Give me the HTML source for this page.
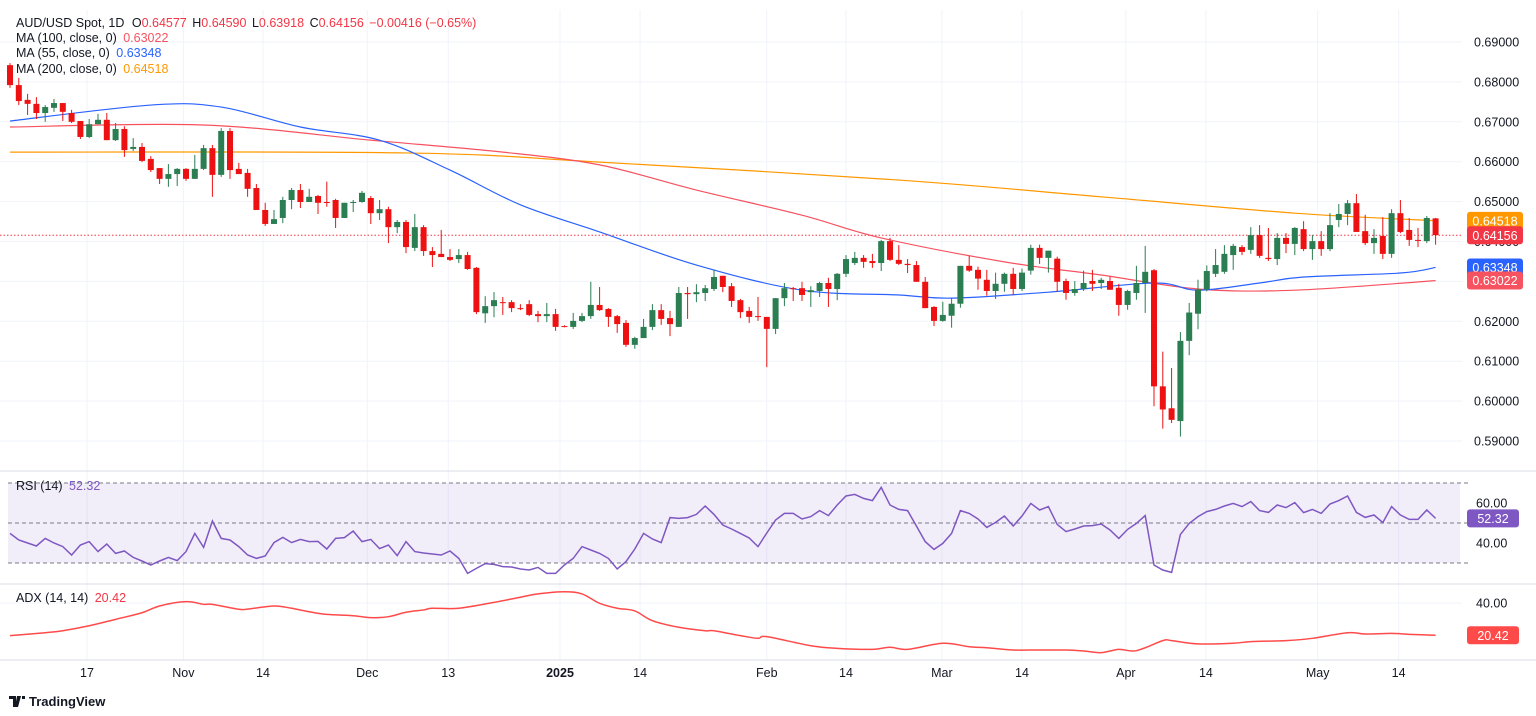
<!DOCTYPE html>
<html><head><meta charset="utf-8"><style>
html,body{margin:0;padding:0;background:#fff;}
svg{display:block;font-family:"Liberation Sans",sans-serif;}
</style></head><body>
<svg id="chart" width="1536" height="716" viewBox="0 0 1536 716" xmlns="http://www.w3.org/2000/svg">
<rect width="1536" height="716" fill="#fff"/>
<g id="grid"></g>
<g id="rsiPane"></g>
<g id="adxPane"></g>
<g id="mas"></g>
<g id="candles"></g>
<g id="axes"></g>
<g font-size="12.5" fill="#131722">
<text x="16" y="27">AUD/USD Spot, 1D  <tspan dx="4">O</tspan><tspan fill="#f23645">0.64577</tspan> <tspan dx="2">H</tspan><tspan fill="#f23645">0.64590</tspan> <tspan dx="2">L</tspan><tspan fill="#f23645">0.63918</tspan> <tspan dx="2">C</tspan><tspan fill="#f23645">0.64156</tspan> <tspan dx="2" fill="#f23645">−0.00416 (−0.65%)</tspan></text>
<text x="16" y="42">MA (100, close, 0) <tspan dx="3" fill="#f7525f">0.63022</tspan></text>
<text x="16" y="57">MA (55, close, 0) <tspan dx="3" fill="#2962ff">0.63348</tspan></text>
<text x="16" y="73">MA (200, close, 0) <tspan dx="3" fill="#ff9800">0.64518</tspan></text>
<text x="16" y="490">RSI (14) <tspan dx="3" fill="#7e57c2">52.32</tspan></text>
<text x="16" y="602">ADX (14, 14) <tspan dx="3" fill="#f23645">20.42</tspan></text>
</g>
<g>
<path d="M9 696h7v11h-3v-8h-4z M17 696h4l-3 11h-3z M22 696h3v3h-3z" fill="#131722"/>
<text x="29" y="706" font-size="13" font-weight="bold" fill="#131722">TradingView</text>
</g>
</svg>
<script>
const opens=[6842,6792,6755,6745,6722,6735,6747,6722,6702,6662,6694,6705,6654,6682,6632,6637,6607,6584,6557,6569,6582,6557,6582,6634,6567,6677,6582,6572,6534,6479,6444,6459,6504,6529,6499,6514,6499,6504,6459,6497,6499,6509,6471,6481,6436,6449,6384,6436,6376,6369,6361,6356,6366,6334,6220,6238,6248,6248,6233,6243,6218,6213,6218,6188,6186,6201,6213,6241,6231,6213,6196,6141,6158,6186,6228,6208,6186,6271,6268,6271,6281,6314,6288,6253,6226,6213,6211,6181,6258,6283,6283,6273,6276,6296,6281,6319,6346,6359,6351,6346,6401,6354,6344,6341,6299,6236,6201,6214,6244,6339,6329,6304,6276,6294,6319,6281,6327,6384,6359,6357,6301,6271,6281,6301,6296,6301,6284,6241,6271,6296,6328,6037,5982,5950,6151,6219,6280,6319,6324,6366,6386,6379,6416,6359,6356,6409,6394,6431,6381,6401,6381,6454,6469,6496,6426,6396,6414,6369,6471,6429,6404,6401,6458];
const highs=[6847,6810,6770,6762,6742,6757,6747,6730,6702,6707,6720,6722,6697,6689,6659,6647,6614,6584,6594,6584,6584,6617,6642,6642,6684,6684,6597,6582,6544,6497,6479,6512,6534,6544,6532,6517,6550,6507,6497,6504,6527,6514,6504,6487,6454,6454,6469,6441,6386,6429,6381,6381,6374,6336,6263,6273,6261,6253,6243,6253,6226,6246,6231,6190,6221,6221,6299,6286,6233,6216,6203,6161,6206,6243,6243,6226,6286,6286,6293,6291,6329,6314,6296,6256,6236,6261,6211,6258,6296,6286,6299,6288,6299,6309,6321,6366,6374,6366,6369,6404,6409,6391,6356,6351,6311,6238,6249,6259,6339,6364,6337,6329,6322,6322,6334,6332,6392,6392,6377,6362,6307,6301,6327,6329,6309,6312,6294,6279,6339,6389,6331,6124,6083,6173,6246,6304,6340,6381,6391,6394,6391,6436,6441,6434,6421,6421,6436,6451,6416,6426,6471,6494,6504,6519,6467,6431,6461,6481,6504,6459,6434,6464,6459];
const lows=[6785,6742,6717,6707,6700,6725,6702,6697,6657,6659,6694,6654,6652,6612,6627,6599,6574,6544,6537,6539,6552,6557,6579,6512,6562,6557,6569,6512,6479,6439,6444,6446,6481,6484,6499,6469,6487,6434,6459,6474,6497,6444,6454,6396,6421,6371,6376,6364,6336,6361,6351,6346,6329,6218,6196,6210,6216,6223,6228,6213,6198,6198,6176,6185,6181,6198,6206,6226,6186,6171,6136,6131,6158,6178,6191,6163,6186,6206,6248,6251,6276,6273,6236,6208,6196,6201,6085,6168,6238,6251,6251,6236,6261,6236,6253,6311,6341,6334,6334,6326,6351,6341,6321,6299,6233,6188,6199,6184,6234,6324,6279,6264,6256,6274,6266,6276,6317,6344,6322,6274,6254,6264,6276,6276,6281,6279,6214,6229,6254,6221,5987,5931,5945,5911,6115,6180,6275,6311,6319,6329,6366,6369,6359,6351,6341,6371,6366,6376,6354,6364,6376,6436,6441,6424,6391,6369,6356,6359,6421,6389,6386,6396,6392];
const closes=[6792,6752,6745,6722,6737,6747,6725,6700,6662,6694,6705,6654,6682,6629,6637,6602,6579,6557,6569,6582,6557,6582,6634,6567,6677,6579,6569,6532,6479,6444,6456,6504,6529,6499,6512,6497,6497,6459,6497,6499,6522,6471,6481,6436,6449,6386,6436,6376,6366,6361,6354,6366,6331,6223,6238,6253,6246,6233,6231,6216,6213,6218,6186,6186,6201,6213,6241,6228,6211,6193,6141,6158,6186,6228,6206,6193,6271,6268,6273,6283,6311,6286,6251,6223,6211,6211,6181,6258,6283,6281,6266,6278,6296,6281,6319,6356,6359,6349,6346,6401,6354,6344,6341,6299,6233,6201,6216,6244,6339,6327,6307,6276,6294,6319,6281,6322,6384,6359,6377,6299,6271,6281,6296,6294,6304,6279,6241,6276,6296,6324,6037,5979,5953,6151,6222,6280,6326,6341,6369,6389,6374,6416,6364,6356,6409,6394,6434,6381,6401,6381,6441,6469,6496,6424,6396,6409,6369,6471,6424,6404,6403,6459,6416];
const rsiValues=[44.8,41.5,40,38.5,42.3,40,38.2,34,39,40.7,35.7,39.5,34.8,36,32.8,31,29,31,32.8,31.2,35.7,44.8,37.8,51,42.3,41.5,38.2,34,32.3,33.5,40.2,42.8,40.2,41.8,40.7,40.8,37,42.3,42.7,46,40.7,41.8,37.2,39,33.7,40.7,35.7,35,34.5,34,36,32.3,24.8,27.3,29.7,29.3,28.2,28,27,26.5,27.8,24.8,24.8,29,32.3,38.2,36.5,34.8,32.3,27,30.7,37,44.8,42,40.2,52.7,52.3,52.7,54.3,58.5,54.3,49,47,44.8,42.5,38.2,45,51.5,54.8,54.8,52,53.2,56.2,53.7,59,63.5,64.3,62.3,61.2,67.8,59,56.8,56.2,48.5,40.7,36.8,39.8,44.8,56.2,54.8,52,47.8,50.3,53.5,48.5,53.5,59.8,56.5,58.2,49.3,45.7,47,48.5,48.7,49.5,46.5,42.3,46.8,49.8,53.7,29,26.5,25.3,44.3,49.8,53.2,55.7,56.8,58.5,59.8,58.2,60.7,56.2,55.3,59,57.7,60.2,55.2,56.8,54.8,59.5,61.2,63.5,55.3,52.8,54,50.2,58.2,54,51.8,51.8,56.5,52.32];
const adxDays=[0,4,6,9,12,15,17,20,22,23,26,27,30,32,34,36,39,41,43,45,47,48,51,55,58,60,63,65,67,69,71,73,76,79,80,83,85,86,91,94,98,100,102,106,109,111,114,116,120,122,124,126,128,131,132,135,139,141,145,148,152,154,157,159,162];
const adxValues=[20.2,22,23.2,26.2,30.1,34.1,38.2,40.8,39.2,39.2,36.2,36.3,38.2,36.8,34.7,33.1,32.3,31.1,31.7,34.4,35.8,36.8,36.8,40.4,43.5,45.5,46.8,45.5,39.8,36.8,35.2,29.3,25.3,23.2,23.2,20.2,18.6,19.6,14.1,12.5,11.9,13.2,11.9,15.6,13.5,12.9,11.5,11.5,11.5,10.9,9.9,11.9,11.1,17.2,17.2,15.2,15.6,16.6,17.2,18.6,22,21.2,21.6,21,20.42];
const ma200Days=[0,45,67,101,124,146,162];
const ma200Values=[6624,6622,6599,6554,6512,6471,6452];
const ma100Days=[0,22,41,56,67,78,90,99,113,124,135,146,162];
const ma100Values=[6687,6692,6654,6624,6592,6529,6466,6409,6349,6316,6281,6278,6302];
const ma55Days=[0,16,24,33,42,50,58,67,78,90,101,107,118,130,135,142,147,158,162];
const ma55Values=[6702,6742,6737,6687,6654,6579,6492,6424,6341,6278,6266,6258,6273,6296,6278,6296,6311,6321,6335];
const priceTicks=[0.69,0.68,0.67,0.66,0.65,0.64,0.63,0.62,0.61,0.60,0.59];
const rsiTicks=[60,40];
const adxTicks=[40];
const dateLabels=["17","Nov","14","Dec","13","2025","14","Feb","14","Mar","14","Apr","14","May","14"];
const dateDays=[8.75,19.7,28.75,40.6,49.8,62.5,71.6,86,95,105.9,115,126.8,135.9,148.6,157.8];
const markers=[{v:0.64518,c:"#ff9800",t:"0.64518"},{v:0.64156,c:"#f23645",t:"0.64156"},{v:0.63348,c:"#2962ff",t:"0.63348"},{v:0.63022,c:"#f7525f",t:"0.63022"}];

const NS="http://www.w3.org/2000/svg";
const X0=10,DX=8.8,PLOT_R=1462;
const xAt=i=>X0+i*DX;
const yPrice=p=>42+(0.69-p)*3990;
const yPip=v=>yPrice(v/10000);
const yRsi=r=>523-(r-50)*2;
const yAdx=a=>636-(a-20)*1.65;
function mk(tag,attrs,parent){const e=document.createElementNS(NS,tag);for(const k in attrs)e.setAttribute(k,attrs[k]);parent.appendChild(e);return e;}
function smoothPath(pts){
  let d='M'+pts[0][0]+','+pts[0][1];
  for(let i=0;i<pts.length-1;i++){
    const p0=pts[Math.max(0,i-1)],p1=pts[i],p2=pts[i+1],p3=pts[Math.min(pts.length-1,i+2)];
    const c1x=p1[0]+(p2[0]-p0[0])/6,c1y=p1[1]+(p2[1]-p0[1])/6;
    const c2x=p2[0]-(p3[0]-p1[0])/6,c2y=p2[1]-(p3[1]-p1[1])/6;
    d+=' C'+c1x+','+c1y+' '+c2x+','+c2y+' '+p2[0]+','+p2[1];
  }
  return d;
}
const grid=document.getElementById('grid');
const axes=document.getElementById('axes');
priceTicks.forEach(p=>{
  const l=mk('line',{x1:0,x2:PLOT_R,y1:yPrice(p),y2:yPrice(p),stroke:'#f0f3fa','stroke-width':1},grid);
  
  
  const t=mk('text',{x:1474,y:yPrice(p)+4.5,'font-size':12.5,fill:'#131722'},axes);
  t.textContent=p.toFixed(5);
  
  
});
dateDays.forEach((d,i)=>{
  const l=mk('line',{x1:xAt(d),x2:xAt(d),y1:10,y2:660,stroke:'#f0f3fa','stroke-width':1},grid);
  
  
  const t=mk('text',{x:xAt(d),y:677,'font-size':12.5,fill:'#131722','text-anchor':'middle','font-weight':dateLabels[i]==='2025'?'bold':'normal'},axes);
  t.textContent=dateLabels[i];
  
  
});
[471,584,660].forEach(y=>{const l=mk('line',{x1:0,x2:1536,y1:y,y2:y,stroke:'#e0e3eb','stroke-width':1.2},grid);
  
  });
const rp=document.getElementById('rsiPane');
const band=mk('rect',{x:8,y:yRsi(70),width:1460-8,height:yRsi(30)-yRsi(70),fill:'#7e57c2','fill-opacity':0.1},rp);


[70,50,30].forEach(v=>{const l=mk('line',{x1:8,x2:1468,y1:yRsi(v),y2:yRsi(v),stroke:'#787b86','stroke-dasharray':'4 3','stroke-width':1},rp);
  
  });
rsiTicks.forEach(v=>{const t=mk('text',{x:1476,y:yRsi(v)+4.5,'font-size':12.5,fill:'#131722'},axes);t.textContent=v.toFixed(2);
  
  });
const rl=mk('polyline',{points:rsiValues.map((v,i)=>xAt(i)+','+yRsi(v)).join(' '),fill:'none',stroke:'#7e57c2','stroke-width':1.5},rp);


const ap=document.getElementById('adxPane');
adxTicks.forEach(v=>{const t=mk('text',{x:1476,y:yAdx(v)+4.5,'font-size':12.5,fill:'#131722'},axes);t.textContent=v.toFixed(2);
  
  
  const l=mk('line',{x1:0,x2:PLOT_R,y1:yAdx(v),y2:yAdx(v),stroke:'#f0f3fa'},grid);
  
  });
const al=mk('path',{d:smoothPath(adxDays.map((d,i)=>[xAt(d),yAdx(adxValues[i])])),fill:'none',stroke:'#ff4a4a','stroke-width':1.5},ap);


const mg=document.getElementById('mas');
function maLine(days,vals,color,name){const l=mk('path',{d:smoothPath(days.map((d,i)=>[xAt(d),yPip(vals[i])])),fill:'none',stroke:color,'stroke-width':1.2},mg);
  
  }
maLine(ma200Days,ma200Values,'#ff9800','ma200-line');
maLine(ma100Days,ma100Values,'#f7525f','ma100-line');
maLine(ma55Days,ma55Values,'#2962ff','ma55-line');
const lp=mk('line',{x1:0,x2:PLOT_R,y1:yPrice(0.64156),y2:yPrice(0.64156),stroke:'#f23645','stroke-dasharray':'1.5 2','stroke-width':1},mg);


const cg=document.getElementById('candles');
opens.forEach((o,i)=>{
  const c=closes[i],up=c>=o,col=up?'#2b7d52':'#ee1111',x=xAt(i);
  const w=mk('line',{x1:x,x2:x,y1:yPip(highs[i]),y2:yPip(lows[i]),stroke:col,'stroke-width':1},cg);
  
  
  const top=yPip(Math.max(o,c)),bot=yPip(Math.min(o,c));
  const b=mk('rect',{x:x-3,y:top,width:6,height:Math.max(1,bot-top),fill:col},cg);
  
  
});
markers.forEach(m=>{const y=yPrice(m.v);
  const r=mk('rect',{x:1467,y:y-9,width:56,height:18,rx:3,fill:m.c},axes);
  
  
  const t=mk('text',{x:1495,y:y+4.5,'font-size':12.5,fill:'#fff','text-anchor':'middle'},axes);t.textContent=m.t;
  
  });
[[yRsi(52.32),'#7e57c2','52.32'],[yAdx(20.42),'#ff4a4a','20.42']].forEach(a=>{
  const r=mk('rect',{x:1467,y:a[0]-9,width:52,height:18,rx:3,fill:a[1]},axes);
  
  
  const t=mk('text',{x:1493,y:a[0]+4.5,'font-size':12.5,fill:'#fff','text-anchor':'middle'},axes);t.textContent=a[2];
  
  });
</script>
</body></html>
